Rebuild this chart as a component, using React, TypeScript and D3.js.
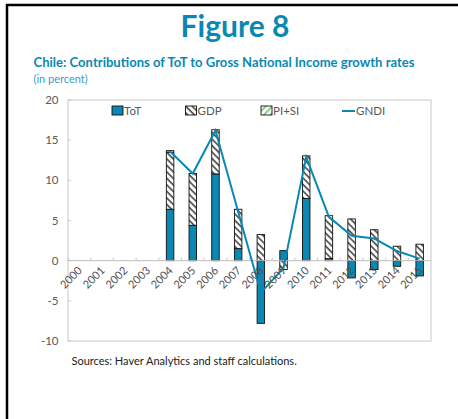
import React from "react";
import * as d3 from "d3";

const years = ["2000","2001","2002","2003","2004","2005","2006","2007","2008","2009","2010","2011","2012","2013","2014","2015"];
const tot =   [0,0,0,0, 6.4, 4.4, 10.8, 1.5, -7.8, 1.25, 7.75, 0.25, -2.15, -1.1, -0.7, -1.9];
const gdp =   [0,0,0,0, 7.1, 6.45, 5.5, 4.9, 3.25, -1.1, 5.3, 5.35, 5.2, 3.85, 1.8, 2.05];
const pisi =  [0,0,0,0, 0.2, 0, 0, 0, 0, 0, 0, 0, 0, 0, 0, 0];
const gndi: (number | null)[] = [null,null,null,null, 13.6, 10.85, 16.2, 6.1, -4.0, -0.9, 12.9, 5.45, 3.1, 2.75, 1.2, 0.25];
const yTicks = [-10, -5, 0, 5, 10, 15, 20];
const seriesKeys = ["ToT", "GDP", "PI+SI"];

const BLUE = "#0A88B4";
const FONT = "Lato, 'Open Sans', sans-serif";

export default function App() {
  const left = 68, right = 431, top = 100, bottom = 341;
  const x = d3.scaleBand<string>().domain(years).range([left, right]).paddingInner(0.67).paddingOuter(0.335);
  const y = d3.scaleLinear().domain([-10, 20]).range([bottom, top]);
  const step = x.step();

  const rows = years.map((yr, i) => ({ year: yr, "ToT": tot[i], "GDP": gdp[i], "PI+SI": pisi[i] }));
  const stacked = d3.stack<any>().keys(seriesKeys).offset(d3.stackOffsetDiverging)(rows);
  const fills: Record<string, string> = { "ToT": BLUE, "GDP": "url(#hatchGDP)", "PI+SI": "url(#hatchPI)" };

  const line = d3.line<number | null>()
    .defined(d => d !== null)
    .x((_, i) => (x(years[i]) as number) + x.bandwidth() / 2)
    .y(d => y(d as number));

  return (
    <svg width={458} height={419} style={{ position: "absolute", left: 0, top: 0, background: "#fff" }}>
      <defs>
        <pattern id="hatchGDP" patternUnits="userSpaceOnUse" width={4.6} height={4.6} patternTransform="rotate(-45)">
          <rect width={4.6} height={4.6} fill="#fff" />
          <line x1={1} y1={0} x2={1} y2={4.6} stroke="#505050" strokeWidth={1.7} />
        </pattern>
        <pattern id="hatchPI" patternUnits="userSpaceOnUse" width={4.6} height={4.6} patternTransform="rotate(45)">
          <rect width={4.6} height={4.6} fill="#fff" />
          <line x1={1} y1={0} x2={1} y2={4.6} stroke="#7fc97f" strokeWidth={1.8} />
        </pattern>
      </defs>

      {/* frame */}
      <path d="M7,419 V5 H458" fill="none" stroke="#000" strokeWidth={2.5} />

      {/* titles */}
      <text x={235} y={37} textAnchor="middle" fontFamily={FONT} fontWeight="bold" fontSize={30} fill={BLUE}>Figure 8</text>
      <text x={33.5} y={66.5} fontFamily={FONT} fontWeight="bold" fontSize={12.3} fill={BLUE} textLength={381} lengthAdjust="spacingAndGlyphs">Chile: Contributions of ToT to Gross National Income growth rates</text>
      <text x={33.5} y={82.5} fontFamily={FONT} fontSize={11} fill="#3A9CC8">(in percent)</text>

      {/* plot box */}
      <rect x={left} y={top} width={right - left} height={bottom - top} fill="none" stroke="#C8C8C8" strokeWidth={1} />

      {/* y ticks */}
      {yTicks.map(t => (
        <g key={t}>
          <line x1={left} x2={left + 3} y1={y(t)} y2={y(t)} stroke="#C8C8C8" />
          <text x={58.5} y={y(t) + 4} textAnchor="end" fontFamily={FONT} fontSize={11.5} fill="#595959">{t}</text>
        </g>
      ))}

      {/* bars */}
      {stacked.map(s => (
        <g key={s.key}>
          {s.map((d, i) => {
            const h = Math.abs(y(d[0]) - y(d[1]));
            if (h < 0.01) return null;
            return (
              <rect key={i} x={x(years[i])} y={Math.min(y(d[0]), y(d[1]))} width={x.bandwidth()} height={h}
                fill={fills[s.key]} stroke="#111" strokeWidth={0.9} />
            );
          })}
        </g>
      ))}

      {/* zero axis */}
      <line x1={left} x2={right} y1={y(0)} y2={y(0)} stroke="#BDBDBD" strokeWidth={1} />
      {years.map((yr, i) => (
        <line key={yr} x1={left + i * step} x2={left + i * step} y1={y(0)} y2={y(0) - 3} stroke="#C8C8C8" />
      ))}

      {/* GNDI line */}
      <path d={line(gndi) || ""} fill="none" stroke={BLUE} strokeWidth={2} />

      {/* x labels */}
      {years.map(yr => {
        const cx = (x(yr) as number) + x.bandwidth() / 2 + 3.5;
        return (
          <text key={yr} transform={`translate(${cx},${y(0) + 10.5}) rotate(-45)`} textAnchor="end" fontFamily={FONT} fontSize={11} fill="#505050">{yr}</text>
        );
      })}

      {/* legend */}
      <rect x={112} y={106} width={11} height={9} fill={BLUE} stroke="#111" strokeWidth={0.9} />
      <text x={124} y={115} fontFamily={FONT} fontSize={11.5} fill="#595959">ToT</text>
      <rect x={185.5} y={106} width={11} height={9} fill="url(#hatchGDP)" stroke="#111" strokeWidth={0.9} />
      <text x={197.5} y={115} fontFamily={FONT} fontSize={11.5} fill="#595959">GDP</text>
      <rect x={261} y={106} width={11} height={9} fill="url(#hatchPI)" stroke="#111" strokeWidth={0.9} />
      <text x={273} y={115} fontFamily={FONT} fontSize={11.5} fill="#595959">PI+SI</text>
      <line x1={342} x2={355} y1={111} y2={111} stroke={BLUE} strokeWidth={2} />
      <text x={356} y={115} fontFamily={FONT} fontSize={11.5} fill="#595959">GNDI</text>

      {/* source */}
      <text x={71.5} y={364.5} fontFamily={FONT} fontSize={11} fill="#222">Sources: Haver Analytics and staff calculations.</text>
    </svg>
  );
}
